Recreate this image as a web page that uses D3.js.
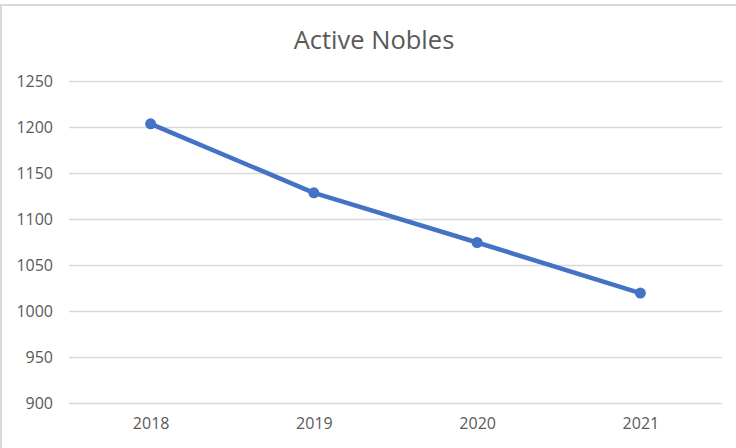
<!DOCTYPE html>
<html>
<head>
<meta charset="utf-8">
<script src="https://cdn.jsdelivr.net/npm/d3@7"></script>
<style>
  body { margin: 0; background: #fff; }
  text { font-family: "Open Sans", sans-serif; fill: #595959; }
</style>
</head>
<body>
<div id="chart"></div>
<script>
var years = ["2018", "2019", "2020", "2021"];
var nobles = [1204, 1129, 1075, 1020];
var yTicks = [900, 950, 1000, 1050, 1100, 1150, 1200, 1250];

var svgWidth = 736;
var svgHeight = 448;

var margin = { top: 81.5, right: 14, bottom: 44.5, left: 69 };
var width = svgWidth - margin.left - margin.right;
var height = svgHeight - margin.top - margin.bottom;

var svg = d3.select("#chart")
  .append("svg")
  .attr("width", svgWidth)
  .attr("height", svgHeight);

// chart border (only top and left visible in the crop)
svg.append("path")
  .attr("d", "M1,448 L1,5 L736,5")
  .attr("fill", "none")
  .attr("stroke", "#d9d9d9")
  .attr("stroke-width", 2);

svg.append("text")
  .attr("x", 374)
  .attr("y", 49)
  .attr("text-anchor", "middle")
  .style("font-size", "25.5px")
  .text("Active Nobles");

var chartGroup = svg.append("g")
  .attr("transform", `translate(${margin.left}, ${margin.top})`);

var xScale = d3.scalePoint()
  .domain(years)
  .range([0, width])
  .padding(0.5);

var yScale = d3.scaleLinear()
  .domain([900, 1250])
  .range([height, 0]);

// gridlines
chartGroup.append("g")
  .selectAll("line")
  .data(yTicks)
  .enter()
  .append("line")
  .attr("x1", 0)
  .attr("x2", width)
  .attr("y1", d => yScale(d))
  .attr("y2", d => yScale(d))
  .attr("stroke", "#d9d9d9")
  .attr("stroke-width", 1.5);

// y axis labels
var leftAxis = d3.axisLeft(yScale)
  .tickValues(yTicks)
  .tickFormat(d3.format("d"))
  .tickSize(0)
  .tickPadding(16);
var yAxisG = chartGroup.append("g").call(leftAxis);
yAxisG.select(".domain").remove();
yAxisG.selectAll("text").style("font-size", "16px").style("fill", "#595959");

// x axis labels
var bottomAxis = d3.axisBottom(xScale).tickSize(0).tickPadding(14);
var xAxisG = chartGroup.append("g")
  .attr("transform", `translate(0, ${height})`)
  .call(bottomAxis);
xAxisG.select(".domain").remove();
xAxisG.selectAll("text").style("font-size", "16px").style("fill", "#595959");

var data = years.map((y, i) => ({ year: y, value: nobles[i] }));

var line = d3.line()
  .x(d => xScale(d.year))
  .y(d => yScale(d.value));

chartGroup.append("path")
  .datum(data)
  .attr("d", line)
  .attr("fill", "none")
  .attr("stroke", "#4472c4")
  .attr("stroke-width", 4.5)
  .attr("stroke-linejoin", "round");

chartGroup.selectAll("circle")
  .data(data)
  .enter()
  .append("circle")
  .attr("cx", d => xScale(d.year))
  .attr("cy", d => yScale(d.value))
  .attr("r", 5.5)
  .attr("fill", "#4472c4");
</script>
</body>
</html>
